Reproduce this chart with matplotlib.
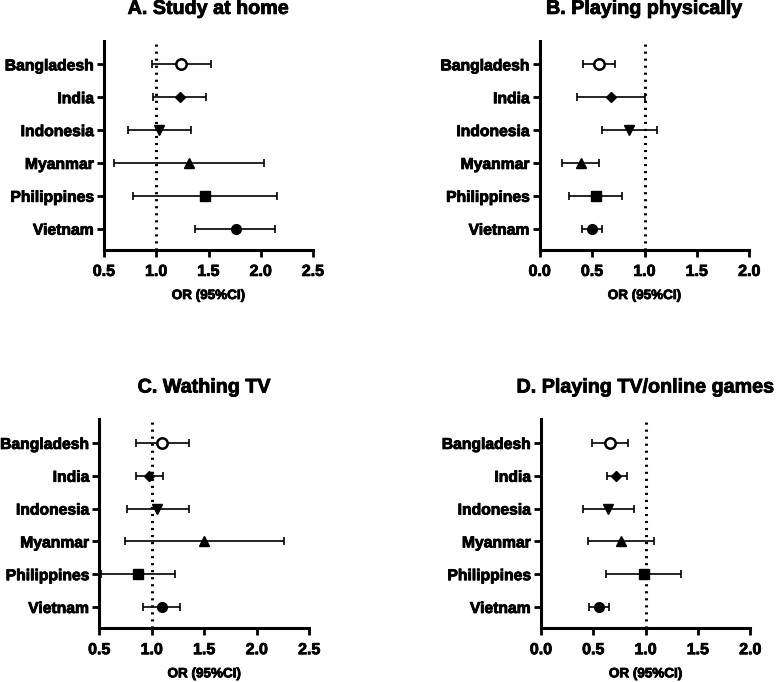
import matplotlib
matplotlib.use("Agg")
import matplotlib.pyplot as plt
import matplotlib.patheffects as pe

plt.rcParams['font.family'] = ['Liberation Sans', 'DejaVu Sans']
plt.rcParams['font.weight'] = 'bold'

countries = ["Bangladesh", "India", "Indonesia", "Myanmar", "Philippines", "Vietnam"]

# Panel A: Study at home
a_or = [1.24, 1.23, 1.03, 1.31, 1.47, 1.76]
a_lo = [0.96, 0.97, 0.73, 0.60, 0.78, 1.37]
a_hi = [1.52, 1.48, 1.33, 2.03, 2.16, 2.14]

# Panel B: Playing physically
b_or = [0.57, 0.68, 0.85, 0.39, 0.54, 0.50]
b_lo = [0.41, 0.36, 0.59, 0.21, 0.28, 0.40]
b_hi = [0.72, 1.00, 1.12, 0.57, 0.79, 0.59]

# Panel C: Wathing TV
c_or = [1.10, 0.97, 1.05, 1.50, 0.87, 1.10]
c_lo = [0.85, 0.85, 0.76, 0.74, 0.52, 0.92]
c_hi = [1.35, 1.11, 1.35, 2.26, 1.22, 1.27]

# Panel D: Playing TV/online games
d_or = [0.66, 0.72, 0.64, 0.76, 0.98, 0.55]
d_lo = [0.49, 0.63, 0.40, 0.45, 0.62, 0.46]
d_hi = [0.83, 0.82, 0.89, 1.08, 1.34, 0.65]

titles = ["A. Study at home", "B. Playing physically", "C. Wathing TV", "D. Playing TV/online games"]
xticks_a = [0.5, 1.0, 1.5, 2.0, 2.5]
xticks_b = [0.0, 0.5, 1.0, 1.5, 2.0]

markers = ['o', 'D', 'v', '^', 's', 'o']
msizes = [7.5, 5.0, 6.5, 6.5, 6.5, 7.0]
faces = ['white', 'black', 'black', 'black', 'black', 'black']

W, H = 778, 682
fig = plt.figure(figsize=(W / 100, H / 100), dpi=100)

heavy = [pe.withStroke(linewidth=0.6, foreground='black')]

panels = [
    (a_or, a_lo, a_hi, xticks_a, (104, 40.7, 313, 250)),
    (b_or, b_lo, b_hi, xticks_b, (539.7, 40.7, 749.3, 250)),
    (c_or, c_lo, c_hi, xticks_a, (99.3, 419.3, 309.3, 628.3)),
    (d_or, d_lo, d_hi, xticks_b, (541, 419.3, 750.3, 628.3)),
]

for (orv, lo, hi, xt, box), title in zip(panels, titles):
    l, t, r, b = box
    ax = fig.add_axes([l / W, (H - b) / H, (r - l) / W, (b - t) / H])
    for i in range(len(countries)):
        ax.errorbar(orv[i], i, xerr=[[orv[i] - lo[i]], [hi[i] - orv[i]]],
                    fmt='none', ecolor='black', elinewidth=1.2, capsize=3.2,
                    capthick=1.2, zorder=2)
        ax.plot(orv[i], i, marker=markers[i], markersize=msizes[i],
                markerfacecolor=faces[i], markeredgecolor='black',
                markeredgewidth=1.8 if faces[i] == 'white' else 1.0,
                linestyle='none', zorder=4)
    ax.axvline(1.0, color='black', linewidth=2.2, linestyle=(0, (0.7, 1.6)), zorder=1)
    ax.set_xlim(xt[0], xt[-1])
    ax.set_ylim(5.65, -0.72)
    ax.set_xticks(xt)
    ax.set_xticklabels([f"{v:.1f}" for v in xt], fontsize=11.5, fontweight='bold')
    ax.set_yticks(range(len(countries)))
    ax.set_yticklabels(countries, fontsize=11.3, fontweight='bold')
    ax.set_xlabel("OR (95%CI)", fontsize=9.7, fontweight='bold', labelpad=8)
    for lab in ax.get_xticklabels() + ax.get_yticklabels() + [ax.xaxis.label]:
        lab.set_path_effects(heavy)
    for s in ['top', 'right']:
        ax.spines[s].set_visible(False)
    for s in ['left', 'bottom']:
        ax.spines[s].set_linewidth(2.2)
    ax.tick_params(axis='x', length=5, width=2.0, pad=5)
    ax.tick_params(axis='y', length=5, width=2.0, pad=2)
    ax.set_facecolor('none')
    fig.text((l + r) / 2 / W, 1 - (t - 32.3) / H, title, fontsize=14.2,
             fontweight='bold', ha='center', va='center', path_effects=heavy)

fig.savefig("out.png", dpi=100, facecolor='white')
